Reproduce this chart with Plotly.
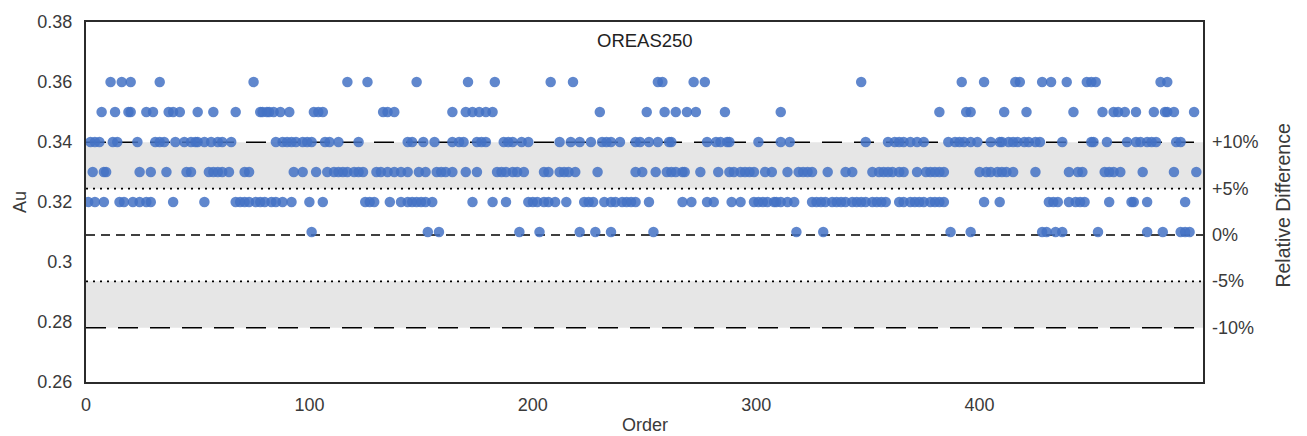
import plotly.graph_objects as go

# Orders (sample sequence) at each reported Au level (ppm)
orders_036 = [11, 16, 20, 33, 75, 117, 126, 148, 171, 183, 208, 218, 256, 258, 272, 277,
              347, 392, 402, 416, 418, 428, 432, 439, 448, 450, 452, 481, 484]
orders_035 = [7, 13, 19, 20, 27, 30, 37, 39, 42, 50, 57, 67, 78, 79, 81, 82, 84, 87, 91,
              102, 104, 106, 133, 135, 138, 164, 170, 173, 176, 179, 182, 230, 251, 259,
              264, 269, 273, 286, 311, 382, 394, 396, 411, 421, 442, 455, 460, 462, 465,
              470, 478, 483, 484, 487, 496]
orders_034 = [2, 4, 6, 12, 14, 23, 31, 33, 35, 40, 44, 47, 49, 50, 53, 56, 59, 61, 65, 85,
              88, 90, 92, 94, 97, 99, 101, 107, 109, 113, 122, 144, 146, 151, 156, 164,
              167, 169, 175, 177, 179, 187, 189, 191, 195, 198, 212, 217, 221, 226, 231,
              233, 235, 239, 246, 248, 252, 256, 261, 262, 278, 282, 284, 287, 288, 301,
              311, 315, 349, 359, 362, 364, 366, 369, 372, 375, 386, 389, 391, 393, 396,
              399, 405, 409, 410, 413, 415, 417, 420, 422, 425, 427, 437, 450, 451, 457,
              466, 470, 472, 475, 477, 479, 488, 490]
orders_033 = [3, 8, 9, 24, 29, 36, 45, 47, 55, 57, 59, 61, 64, 71, 73, 93, 97, 103, 108,
              111, 113, 115, 117, 120, 122, 124, 130, 132, 135, 138, 141, 144, 149, 152,
              157, 159, 161, 164, 170, 175, 184, 186, 188, 191, 193, 196, 205, 207, 212,
              214, 216, 219, 229, 246, 249, 255, 260, 262, 264, 267, 268, 275, 283, 288,
              290, 293, 295, 297, 299, 304, 307, 314, 319, 321, 323, 325, 332, 340, 343,
              352, 355, 357, 359, 361, 364, 366, 372, 376, 378, 380, 382, 384, 400, 403,
              405, 408, 410, 412, 415, 425, 440, 444, 446, 456, 458, 460, 463, 473, 487, 497]
orders_032 = [1, 4, 8, 15, 17, 21, 24, 27, 29, 39, 53, 67, 69, 71, 73, 76, 78, 80, 83, 85,
              88, 92, 100, 106, 125, 127, 129, 136, 141, 144, 146, 148, 150, 152, 155,
              173, 182, 188, 198, 200, 202, 205, 207, 210, 215, 223, 225, 227, 232, 235,
              237, 240, 242, 244, 246, 252, 267, 271, 278, 281, 289, 293, 299, 301, 303,
              305, 308, 309, 311, 314, 317, 325, 327, 329, 331, 334, 336, 338, 340, 343,
              345, 347, 349, 352, 354, 356, 358, 364, 366, 369, 371, 373, 375, 378, 380,
              382, 384, 402, 409, 431, 433, 435, 440, 443, 445, 447, 458, 468, 469, 475, 492]
orders_031 = [101, 153, 158, 194, 203, 221, 228, 235, 254, 318, 330, 387, 396, 428, 430,
              434, 437, 453, 475, 482, 490, 492, 494]

au_levels = [0.36, 0.35, 0.34, 0.33, 0.32, 0.31]
level_orders = [orders_036, orders_035, orders_034, orders_033, orders_032, orders_031]

certified_value = 0.309
rel_diff = [10, 5, 0, -5, -10]
rel_labels = ["+10%", "+5%", "0%", "-5%", "-10%"]

y_ticks = [0.26, 0.28, 0.30, 0.32, 0.34, 0.36, 0.38]
y_tick_text = ["0.26", "0.28", "0.3", "0.32", "0.34", "0.36", "0.38"]
x_ticks = [0, 100, 200, 300, 400]

x_vals, y_vals = [], []
for lvl, ords in zip(au_levels, level_orders):
    for o in ords:
        x_vals.append(o)
        y_vals.append(lvl)

FONT = "Liberation Sans, Arial, sans-serif"
TXT = "#3a3a3a"

fig = go.Figure()

# grey bands between +5%..+10% and -10%..-5%
for lo, hi in [(5, 10), (-10, -5)]:
    fig.add_shape(type="rect", xref="x", yref="y", x0=0, x1=500,
                  y0=certified_value * (1 + lo / 100), y1=certified_value * (1 + hi / 100),
                  fillcolor="#e6e6e6", line_width=0, layer="below")

dash_map = {10: "20px,12px", 5: "2px,5px", 0: "9px,6px", -5: "2px,5px", -10: "20px,12px"}
for rd in rel_diff:
    yv = certified_value * (1 + rd / 100)
    fig.add_shape(type="line", xref="x", yref="y", x0=0, x1=500, y0=yv, y1=yv,
                  line=dict(color="black", width=1.6, dash=dash_map[rd]), layer="below")

fig.add_trace(go.Scatter(x=x_vals, y=y_vals, mode="markers",
                         marker=dict(size=10.5, color="#4472C4", opacity=0.85,
                                     line=dict(width=0)),
                         showlegend=False, hoverinfo="x+y"))

annotations = []
for rd, lab in zip(rel_diff, rel_labels):
    annotations.append(dict(x=1, xref="paper", y=certified_value * (1 + rd / 100), yref="y",
                            text=lab, showarrow=False, xanchor="left", xshift=7,
                            font=dict(family=FONT, size=18, color=TXT)))
annotations.append(dict(x=1, xref="paper", y=0.49, yref="paper", text="Relative Difference",
                        textangle=-90, showarrow=False, xanchor="center", xshift=80,
                        font=dict(family=FONT, size=19.5, color=TXT)))
annotations.append(dict(x=0, xref="paper", y=0.5, yref="paper", text="Au",
                        textangle=-90, showarrow=False, xanchor="center", xshift=-66,
                        font=dict(family=FONT, size=18, color=TXT)))
annotations.append(dict(x=0.5, xref="paper", y=0, yref="paper", text="Order",
                        showarrow=False, yanchor="middle", yshift=-43,
                        font=dict(family=FONT, size=18, color=TXT)))
annotations.append(dict(x=0.5, xref="paper", y=1, yref="paper", text="OREAS250",
                        showarrow=False, yanchor="middle", yshift=-18,
                        font=dict(family=FONT, size=18.5, color="#222222")))

fig.update_layout(
    width=1307, height=436,
    margin=dict(l=86, r=104, t=22, b=54),
    paper_bgcolor="white", plot_bgcolor="white",
    font=dict(family=FONT, size=18, color=TXT),
    annotations=annotations,
    xaxis=dict(range=[0, 500], tickvals=x_ticks, showgrid=False, zeroline=False,
               showline=True, mirror=True, linecolor="#2b2b2b", linewidth=2,
               ticks="", ticklabelstandoff=5, tickfont=dict(size=18, color=TXT)),
    yaxis=dict(range=[0.26, 0.38], tickvals=y_ticks, ticktext=y_tick_text, showgrid=False,
               zeroline=False, showline=True, mirror=True, linecolor="#2b2b2b", linewidth=2,
               ticks="", ticklabelstandoff=8, tickfont=dict(size=18, color=TXT)),
)

fig.write_html("out.html", config={"displayModeBar": False},
               post_script="document.body.style.margin='0px';document.body.style.overflow='hidden';")
